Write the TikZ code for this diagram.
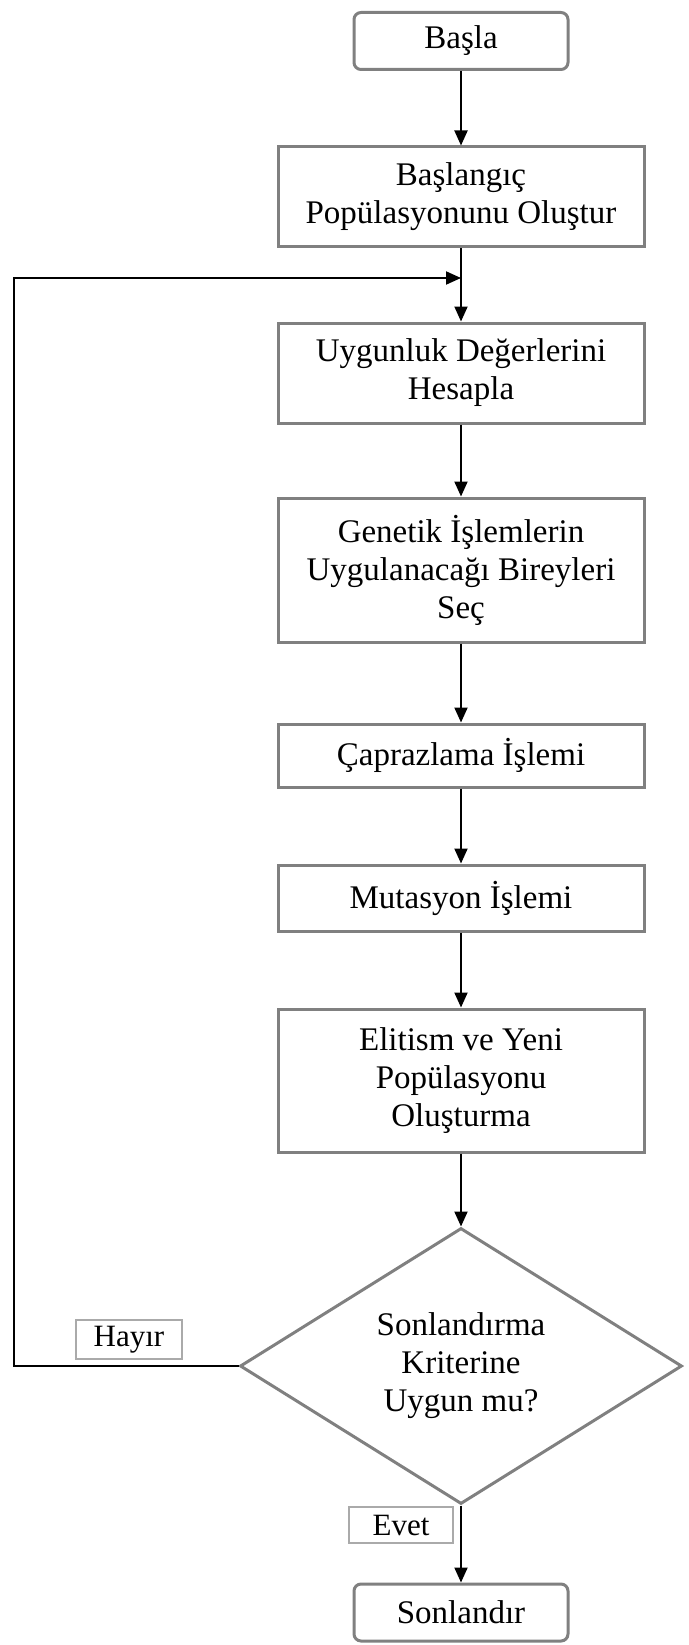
\documentclass[tikz,border=0pt]{standalone}
\usepackage{fontspec}
\setmainfont{Liberation Serif}
\usetikzlibrary{shapes.geometric,arrows.meta}
\definecolor{kenar}{RGB}{128,128,128}
\definecolor{etiketkenar}{RGB}{170,170,170}
\begin{document}
\begin{tikzpicture}[x=1pt,y=-1pt,
    kutu/.style={draw=kenar,line width=3pt,align=center,inner sep=2pt,
      minimum width=366pt,font=\fontsize{33}{38}\selectfont},
    uckutu/.style={kutu,rounded corners=7pt,minimum width=214pt,minimum height=57pt},
    kararkutu/.style={kutu,diamond,inner sep=0pt,minimum width=442pt,minimum height=276pt},
    etiket/.style={draw=etiketkenar,line width=2pt,inner sep=1pt,
      font=\fontsize{31}{36}\selectfont},
    ok/.style={line width=2pt,-{Triangle[length=15pt,width=13pt]}}]
    \useasboundingbox (0,0) rectangle (688,1645);
    % kutular
    \node[uckutu] (basla) at (461,41) {Başla};
    \node[kutu,minimum height=100pt] (olustur) at (461,197) {Başlangıç\\Popülasyonunu Oluştur};
    \node[kutu,minimum height=100pt] (hesapla) at (461,373) {Uygunluk Değerlerini\\Hesapla};
    \node[kutu,minimum height=144pt] (sec) at (461,570) {Genetik İşlemlerin\\Uygulanacağı Bireyleri\\Seç};
    \node[kutu,minimum height=63pt] (capraz) at (461,755.5) {Çaprazlama İşlemi};
    \node[kutu,minimum height=66pt] (mutasyon) at (461,898) {Mutasyon İşlemi};
    \node[kutu,minimum height=143pt] (elitism) at (461,1080.5) {Elitism ve Yeni\\Popülasyonu\\Oluşturma};
    \node[kararkutu] (karar) at (461,1366) {Sonlandırma\\Kriterine\\Uygun mu?};
    \node[uckutu] (son) at (461,1612.5) {Sonlandır};
    % etiketler
    \node[etiket,minimum width=106pt,minimum height=39pt] (hayir) at (129,1339.5) {Hayır};
    \node[etiket,minimum width=104pt,minimum height=36pt] (evet) at (401,1525) {Evet};
    % oklar
    \coordinate (birles) at (461,278);
    \coordinate (sol) at (14,278);
    \draw[ok] (basla) -- (olustur);
    \draw[ok] (olustur) -- (hesapla);
    \draw[ok] (hesapla) -- (sec);
    \draw[ok] (sec) -- (capraz);
    \draw[ok] (capraz) -- (mutasyon);
    \draw[ok] (mutasyon) -- (elitism);
    \draw[ok] (elitism) -- (karar);
    \draw[ok] (karar) -- (son);
    \draw[ok] (karar.west) -| (sol) -- (birles);
\end{tikzpicture}
\end{document}
